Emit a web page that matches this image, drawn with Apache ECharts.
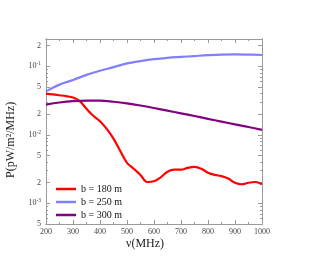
<!DOCTYPE html>
<html><head><meta charset="utf-8">
<script src="https://cdn.jsdelivr.net/npm/echarts@6/dist/echarts.min.js"></script>
<style>html,body{margin:0;padding:0;background:#fff}#c{width:309px;height:263px}</style>
</head><body><div id="c"></div>
<script>
const freq = [200,250,300,350,400,450,500,550,600,650,700,750,800,850,900,950,1000];
const b250 = [0.043,0.054,0.063,0.075,0.086,0.097,0.110,0.119,0.127,0.133,0.137,0.141,0.145,0.148,0.149,0.148,0.146];
const b300 = [0.0276,0.0296,0.031,0.0316,0.0315,0.0304,0.0288,0.0268,0.0246,0.0225,0.0206,0.0188,0.0171,0.0156,0.0142,0.0130,0.0118];
const freqRed = [200,225,250,275,300,325,350,375,400,425,450,475,500,525,550,575,600,625,650,675,700,725,750,775,800,825,850,875,900,925,950,975,1000];
const b180 = [0.040,0.039,0.0378,0.0366,0.0350,0.0310,0.0240,0.0190,0.0158,0.0122,0.0088,0.0058,0.0039,0.0032,0.0026,0.00205,0.0021,0.0024,0.0029,0.0031,0.0031,0.0033,0.0034,0.0032,0.0028,0.0026,0.0025,0.0023,0.0020,0.0019,0.0020,0.00205,0.0019];
const seriesNames = ['b = 180 m','b = 250 m','b = 300 m'];
const xTicks = [200,300,400,500,600,700,800,900,1000];
const yMajor = [5e-4,1e-3,2e-3,5e-3,1e-2,2e-2,5e-2,1e-1,2e-1];
const yLabels = ['5','{a|10}{s|-3}','2','5','{a|10}{s|-2}','2','5','{a|10}{s|-1}','2'];
const yMin = 5e-4, yMax = 0.25;

const L = Math.log10;
const yMinor = [];
[1e-4,1e-3,1e-2,1e-1].forEach(d=>{for(let k=1;k<10;k++){const v=k*d; if(v>=yMin&&v<=yMax) yMinor.push(L(v));}});
const xMinor = []; for(let f=200;f<=1000;f+=50) xMinor.push(f);
const font = 'Liberation Serif';
const axisColor = '#9a9a9a';
function yAx(pos, major, labels){
  return {type:'value', position:pos, min:L(yMin), max:L(yMax),
    axisLine:{show:true, lineStyle:{color:axisColor, width:1}},
    splitLine:{show:false},
    axisTick:{show:true, inside:true, length: major?4:2, customValues: major? yMajor.map(L): yMinor, lineStyle:{color:axisColor}},
    axisLabel:{show:labels, customValues: yMajor.map(L), margin:5, fontFamily:font, fontSize:8, color:'#444',
      formatter:(v)=>{let i=yMajor.findIndex(m=>Math.abs(L(m)-v)<1e-6);return i>=0?yLabels[i]:'';},
      rich:{a:{fontFamily:font,fontSize:8,color:'#444'}, s:{fontFamily:font,fontSize:5.5,color:'#444',padding:[0,0,5,0]}}}};
}
function xAx(pos, major, labels){
  return {type:'value', position:pos, min:200, max:1000,
    axisLine:{show:true, lineStyle:{color:axisColor, width:1}},
    splitLine:{show:false},
    axisTick:{show:true, inside:true, length: major?4:2, customValues: major? xTicks: xMinor, lineStyle:{color:axisColor}},
    axisLabel:{show:labels, customValues: xTicks, margin:4, fontFamily:font, fontSize:8, color:'#444', formatter:(v)=>String(Math.round(v))}};
}
const chart = echarts.init(document.getElementById('c'), null, {renderer:'canvas'});
const mk = (xs, ys) => xs.map((f,i)=>[f, L(ys[i])]);
chart.setOption({
  animation:false,
  grid:{left:46, right:47, top:39, bottom:39},
  xAxis:[xAx('bottom',true,true), xAx('bottom',false,false), xAx('top',true,false), xAx('top',false,false)],
  yAxis:[yAx('left',true,true), yAx('left',false,false), yAx('right',true,false), yAx('right',false,false)],
  legend:{orient:'vertical', left:51, top:179, itemGap:3, itemWidth:20, itemHeight:2.5, icon:'rect',
    textStyle:{fontFamily:font, fontSize:10, color:'#111'}, data:seriesNames},
  graphic:[
    {type:'text', x:126, y:238, style:{text:'ν(MHz)', font:'12px "Liberation Serif"', fill:'#222'}},
    {type:'text', rotation:Math.PI/2, x:5, y:178, style:{text:'P(pW/m²/MHz)', font:'12px "Liberation Serif"', fill:'#222'}}
  ],
  series:[
    {name:seriesNames[0], type:'line', data:mk(freqRed,b180), smooth:0.35, symbol:'none', color:'#ff0000', lineStyle:{width:2.2, color:'#ff0000'}},
    {name:seriesNames[1], type:'line', data:mk(freq,b250), smooth:0.4, symbol:'none', color:'#8080ff', lineStyle:{width:2.2, color:'#8080ff'}},
    {name:seriesNames[2], type:'line', data:mk(freq,b300), smooth:0.4, symbol:'none', color:'#800080', lineStyle:{width:2.2, color:'#800080'}}
  ]
});
</script></body></html>
